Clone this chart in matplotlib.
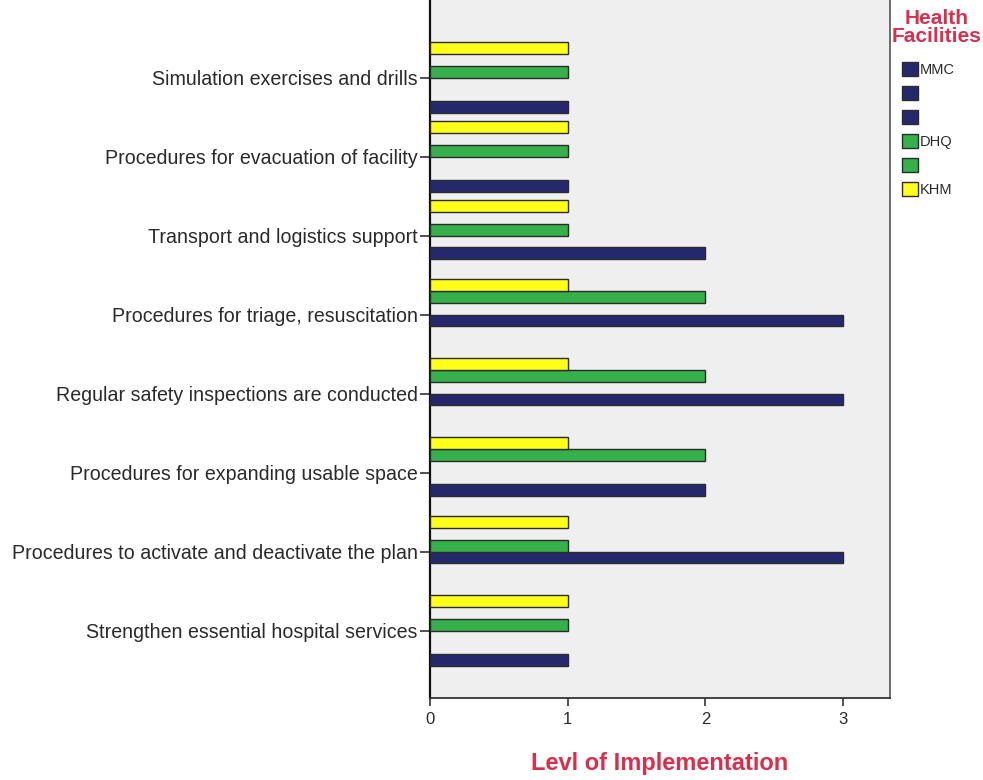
import matplotlib
matplotlib.use("Agg")
import matplotlib.pyplot as plt
from matplotlib.patches import Patch

plt.rcParams["font.family"] = ["Liberation Sans", "DejaVu Sans"]

categories = [
    "Simulation exercises and drills",
    "Procedures for evacuation of facility",
    "Transport and logistics support",
    "Procedures for triage, resuscitation",
    "Regular safety inspections are conducted",
    "Procedures for expanding usable space",
    "Procedures to activate and deactivate the plan",
    "Strengthen essential hospital services",
]
mmc = [1, 1, 2, 3, 3, 2, 3, 1]
dhq = [1, 1, 1, 2, 2, 2, 1, 1]
khm = [1, 1, 1, 1, 1, 1, 1, 1]

facilities = {"MMC": mmc, "DHQ": dhq, "KHM": khm}
colors = {"MMC": "#26286e", "DHQ": "#35b04a", "KHM": "#ffff1a"}
# cluster keys (facility, level) in legend order; first key sits at the bottom of each cluster
cluster_keys = [("MMC", 1), ("MMC", 2), ("MMC", 3), ("DHQ", 1), ("DHQ", 2), ("KHM", 1)]

pitch = 0.15
red = "#d8304c"

fig = plt.figure(figsize=(9.83, 7.80), dpi=100)
ax = fig.add_axes([430 / 983, 1 - 698 / 780, 460 / 983, 698 / 780])
ax.set_facecolor("#efefef")

n_keys = len(cluster_keys)
for i, cat in enumerate(categories):
    for s, (fac, level) in enumerate(cluster_keys):
        val = facilities[fac][i]
        if val != level:
            continue
        y = i + ((n_keys - 1) / 2 - s) * pitch
        ax.barh(y, val, height=pitch, color=colors[fac],
                edgecolor="#2b2b2b", linewidth=1.0, zorder=3)

ax.set_xlim(0, 3.34)
ax.set_ylim(7.854, -0.981)
ax.set_xticks([0, 1, 2, 3])
ax.set_yticks(range(len(categories)))
ax.set_yticklabels(categories, fontsize=14.1, color="#2a2a2a")
ax.tick_params(axis="y", length=7, width=1.2, color="#333333", pad=2)
ax.tick_params(axis="x", length=6, width=1.2, color="#333333", labelsize=12,
               labelcolor="#2a2a2a", pad=4)

ax.spines["top"].set_visible(False)
ax.spines["left"].set_color("#111111")
ax.spines["left"].set_linewidth(1.6)
ax.spines["bottom"].set_color("#333333")
ax.spines["bottom"].set_linewidth(1.3)
ax.spines["right"].set_color("#555555")
ax.spines["right"].set_linewidth(1.2)

ax.set_xlabel("Levl of Implementation", fontsize=17, fontweight="bold",
              color=red, labelpad=18)

# legend: one swatch per cluster key, labelled only at the first key of each facility
handles = []
labels = []
seen = set()
for fac, level in cluster_keys:
    handles.append(Patch(facecolor=colors[fac], edgecolor="#2b2b2b", linewidth=1.0))
    labels.append("" if fac in seen else fac)
    seen.add(fac)

fig.text(937 / 983, 1 - 27.5 / 780, "Health\nFacilities", ha="center", va="center",
         fontsize=15, fontweight="bold", color=red, linespacing=0.95)
leg = fig.legend(handles, labels, loc="upper left",
                 bbox_to_anchor=(902 / 983, 1 - 62 / 780), frameon=False,
                 fontsize=10.5, handlelength=1.1, handleheight=1.1,
                 handletextpad=0.15, labelspacing=0.62, borderaxespad=0,
                 borderpad=0)
for t in leg.get_texts():
    t.set_color("#2a2a2a")

fig.savefig("out.png", dpi=100, facecolor="white")
